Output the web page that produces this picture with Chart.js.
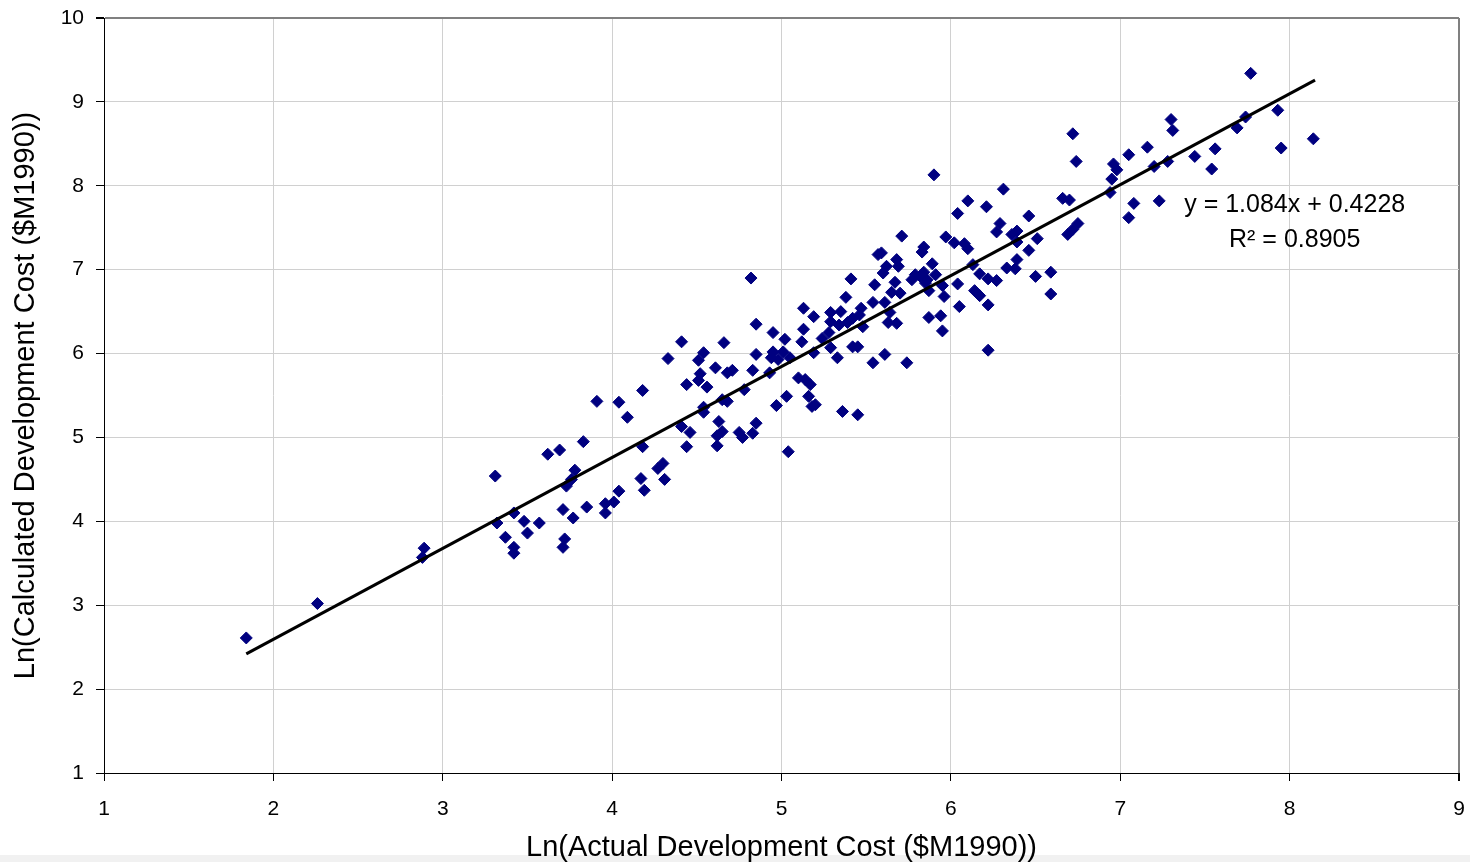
<!DOCTYPE html>
<html>
<head>
<meta charset="utf-8">
<script src="https://cdn.jsdelivr.net/npm/chart.js@4.4.0/dist/chart.umd.min.js"></script>
<style>
    html, body { margin: 0; padding: 0; background: #fff; }
    #chart_container { width: 1470px; height: 862px; }
</style>
</head>
<body>
<div id="chart_container"><canvas id="scatter_chart" width="1470" height="862"></canvas></div>
<script>

// Values
let actual_ln = [
    1.84, 2.26, 2.88, 2.89, 3.31, 3.32, 3.37, 3.42, 3.42, 3.42, 3.48, 3.50, 3.57, 3.62, 3.69, 3.71,
    3.71, 3.72, 3.73, 3.76, 3.78, 3.77, 3.83, 3.85, 3.91, 3.96, 3.96, 4.01, 4.04, 4.04, 4.09, 4.17,
    4.18, 4.18, 4.19, 4.27, 4.30, 4.31, 4.33, 4.41, 4.41, 4.44, 4.44, 4.46, 4.51, 4.51, 4.52, 4.54,
    4.54, 4.54, 4.56, 4.61, 4.62, 4.62, 4.63, 4.65, 4.65, 4.66, 4.68, 4.68, 4.71, 4.75, 4.77, 4.78,
    4.82, 4.83, 4.83, 4.85, 4.85, 4.85, 4.93, 4.95, 4.97, 5.03, 5.04, 4.94, 4.95, 4.98, 5.01, 5.02,
    5.05, 5.10, 5.12, 5.13, 5.13, 5.14, 5.16, 5.17, 5.18, 5.19, 5.19, 5.20, 5.24, 5.28, 5.29, 5.29,
    5.29, 5.33, 5.34, 5.35, 5.36, 5.38, 5.39, 5.41, 5.42, 5.42, 5.45, 5.45, 5.46, 5.47, 5.48, 5.54,
    5.54, 5.55, 5.60, 5.61, 5.61, 5.63, 5.64, 5.65, 5.67, 5.68, 5.70, 5.74, 5.57, 5.59, 5.62, 5.68,
    5.69, 5.71, 5.77, 5.79, 5.82, 5.83, 5.84, 5.84, 5.85, 5.86, 5.87, 5.87, 5.89, 5.90, 5.91, 5.94,
    5.95, 5.95, 5.96, 5.97, 6.02, 6.04, 6.04, 6.05, 6.08, 6.10, 6.10, 6.13, 6.14, 6.17, 6.17, 6.21,
    6.22, 6.22, 6.22, 6.27, 6.27, 6.29, 6.31, 6.33, 6.36, 6.38, 6.39, 6.39, 6.39, 6.46, 6.46, 6.50,
    6.51, 6.59, 6.59, 6.66, 6.69, 6.70, 6.72, 6.72, 6.74, 6.75, 6.94, 6.95, 6.96, 6.98, 7.05, 7.05,
    7.08, 7.16, 7.20, 7.23, 7.28, 7.30, 7.31, 7.44, 7.54, 7.56, 7.69, 7.74, 7.77, 7.93, 7.95, 8.14
];
let calc_ln = [
    2.61, 3.02, 3.57, 3.68, 4.54, 3.98, 3.81, 4.10, 3.69, 3.62, 4.00, 3.86, 3.98, 4.80, 4.85, 4.14,
    3.69, 3.79, 4.42, 4.50, 4.61, 4.04, 4.95, 4.17, 5.43, 4.21, 4.10, 4.23, 4.36, 5.42, 5.24, 4.51,
    5.56, 4.89, 4.37, 4.63, 4.69, 4.50, 5.94, 6.14, 5.13, 5.63, 4.89, 5.06, 5.68, 5.92, 5.76, 6.01,
    5.36, 5.30, 5.60, 5.83, 5.02, 4.90, 5.19, 5.07, 5.45, 6.13, 5.77, 5.43, 5.80, 5.06, 5.00, 5.57,
    6.90, 5.80, 5.05, 5.99, 5.17, 6.35, 5.77, 6.25, 5.38, 5.49, 4.83, 5.95, 6.02, 5.93, 6.02, 6.17,
    5.95, 5.71, 6.14, 6.29, 6.54, 5.69, 5.49, 5.63, 5.37, 6.44, 6.01, 5.39, 6.18, 6.25, 6.49, 6.38,
    6.07, 5.95, 6.34, 6.50, 5.31, 6.67, 6.37, 6.89, 6.42, 6.08, 6.08, 5.27, 6.46, 6.54, 6.32, 6.61,
    5.89, 6.82, 6.96, 6.61, 5.99, 6.37, 6.49, 6.73, 6.85, 6.36, 6.72, 5.89, 7.18, 7.20, 7.04, 7.12,
    7.04, 7.40, 6.88, 6.94, 6.92, 7.21, 7.27, 6.97, 6.84, 6.88, 6.75, 6.43, 7.07, 8.13, 6.94, 6.45,
    6.81, 6.27, 6.68, 7.39, 7.32, 7.67, 6.83, 6.56, 7.31, 7.82, 7.25, 7.06, 6.75, 6.95, 6.69, 7.75,
    6.89, 6.58, 6.04, 6.87, 7.45, 7.55, 7.96, 7.02, 7.42, 7.01, 7.46, 7.33, 7.12, 7.64, 7.23, 6.92,
    7.37, 6.97, 6.71, 7.85, 7.42, 7.83, 8.62, 7.48, 8.29, 7.55, 7.92, 8.08, 8.26, 8.19, 8.37, 7.62,
    7.79, 8.46, 8.23, 7.82, 8.29, 8.79, 8.66, 8.35, 8.20, 8.44, 8.69, 8.82, 9.34, 8.90, 8.45, 8.56
];

// linear trend line ends, as drawn in the picture
let trend_x = [1.84, 8.15];
let trend_y = [2.42, 9.26];

let eq_label = 'y = 1.084x + 0.4228';
let r2_label = 'R² = 0.8905';
let x_title = 'Ln(Actual Development Cost ($M1990))';
let y_title = 'Ln(Calculated Development Cost ($M1990))';


let scatter_points = actual_ln.map((v, i) => ({ x: v, y: calc_ln[i] }));
let trend_points = trend_x.map((v, i) => ({ x: v, y: trend_y[i] }));

const font_family = '"Liberation Sans", Arial, sans-serif';

// light grey strip along the bottom edge of the screenshot
const bottomStrip = {
    id: 'bottomStrip',
    beforeDraw(chart) {
        const c = chart.ctx;
        c.save();
        c.fillStyle = '#f1f1f1';
        c.fillRect(0, chart.height - 7, chart.width, 7);
        c.restore();
    }
};

// equation + R2 text next to the trend line
const equationText = {
    id: 'equationText',
    afterDatasetsDraw(chart) {
        const c = chart.ctx;
        const xs = chart.scales.x;
        const ys = chart.scales.y;
        c.save();
        c.fillStyle = '#000';
        c.font = '25px ' + font_family;
        c.textAlign = 'center';
        c.textBaseline = 'middle';
        c.fillText(eq_label, xs.getPixelForValue(8.03), ys.getPixelForValue(7.77));
        c.fillText(r2_label, xs.getPixelForValue(8.03), ys.getPixelForValue(7.35));
        c.restore();
    }
};

var ctx = document.getElementById('scatter_chart').getContext('2d');
var scatter_chart = new Chart(ctx, {
    type: 'scatter',
    data: {
        datasets: [
            {
                type: 'line',
                label: 'Linear trend',
                data: trend_points,
                borderColor: '#000',
                borderWidth: 3,
                pointRadius: 0,
                fill: false,
                tension: 0
            },
            {
                label: 'Ln cost',
                data: scatter_points,
                pointStyle: 'rectRot',
                pointRadius: 6,
                pointHoverRadius: 6,
                pointBackgroundColor: '#000080',
                pointBorderColor: '#000080',
                pointBorderWidth: 1
            }
        ]
    },
    options: {
        responsive: false,
        animation: false,
        layout: {
            padding: { left: 0, right: 11, top: 18, bottom: 0 }
        },
        plugins: {
            legend: { display: false },
            tooltip: { enabled: false }
        },
        scales: {
            x: {
                type: 'linear',
                min: 1,
                max: 9,
                afterFit: (scale) => {
                    scale.height = 89;
                    scale.paddingLeft = 0;
                    scale.paddingRight = 0;
                },
                ticks: {
                    stepSize: 1,
                    padding: 16,
                    color: '#000',
                    font: { family: font_family, size: 21 }
                },
                grid: {
                    color: (c) => (c.tick && c.tick.value === 9 ? '#808080' : '#d0d0d0'),
                    lineWidth: (c) => (c.tick && c.tick.value === 9 ? 2 : 1),
                    tickColor: '#000',
                    tickLength: 8
                },
                border: { color: '#000', width: 1 },
                title: {
                    display: true,
                    text: x_title,
                    color: '#000',
                    font: { family: font_family, size: 29, lineHeight: 1.0 },
                    padding: { top: 0, bottom: 0 }
                }
            },
            y: {
                type: 'linear',
                min: 1,
                max: 10,
                afterFit: (scale) => {
                    scale.width = 104;
                    scale.paddingTop = 0;
                    scale.paddingBottom = 0;
                },
                ticks: {
                    stepSize: 1,
                    padding: 12,
                    color: '#000',
                    font: { family: font_family, size: 21 }
                },
                grid: {
                    color: (c) => (c.tick && c.tick.value === 10 ? '#808080' : '#d0d0d0'),
                    lineWidth: (c) => (c.tick && c.tick.value === 10 ? 2 : 1),
                    tickColor: '#000',
                    tickLength: 8
                },
                border: { color: '#000', width: 1 },
                title: {
                    display: true,
                    text: y_title,
                    color: '#000',
                    font: { family: font_family, size: 29 },
                    padding: { top: 9, bottom: 0 }
                }
            }
        }
    },
    plugins: [bottomStrip, equationText]
});

</script>
</body>
</html>
